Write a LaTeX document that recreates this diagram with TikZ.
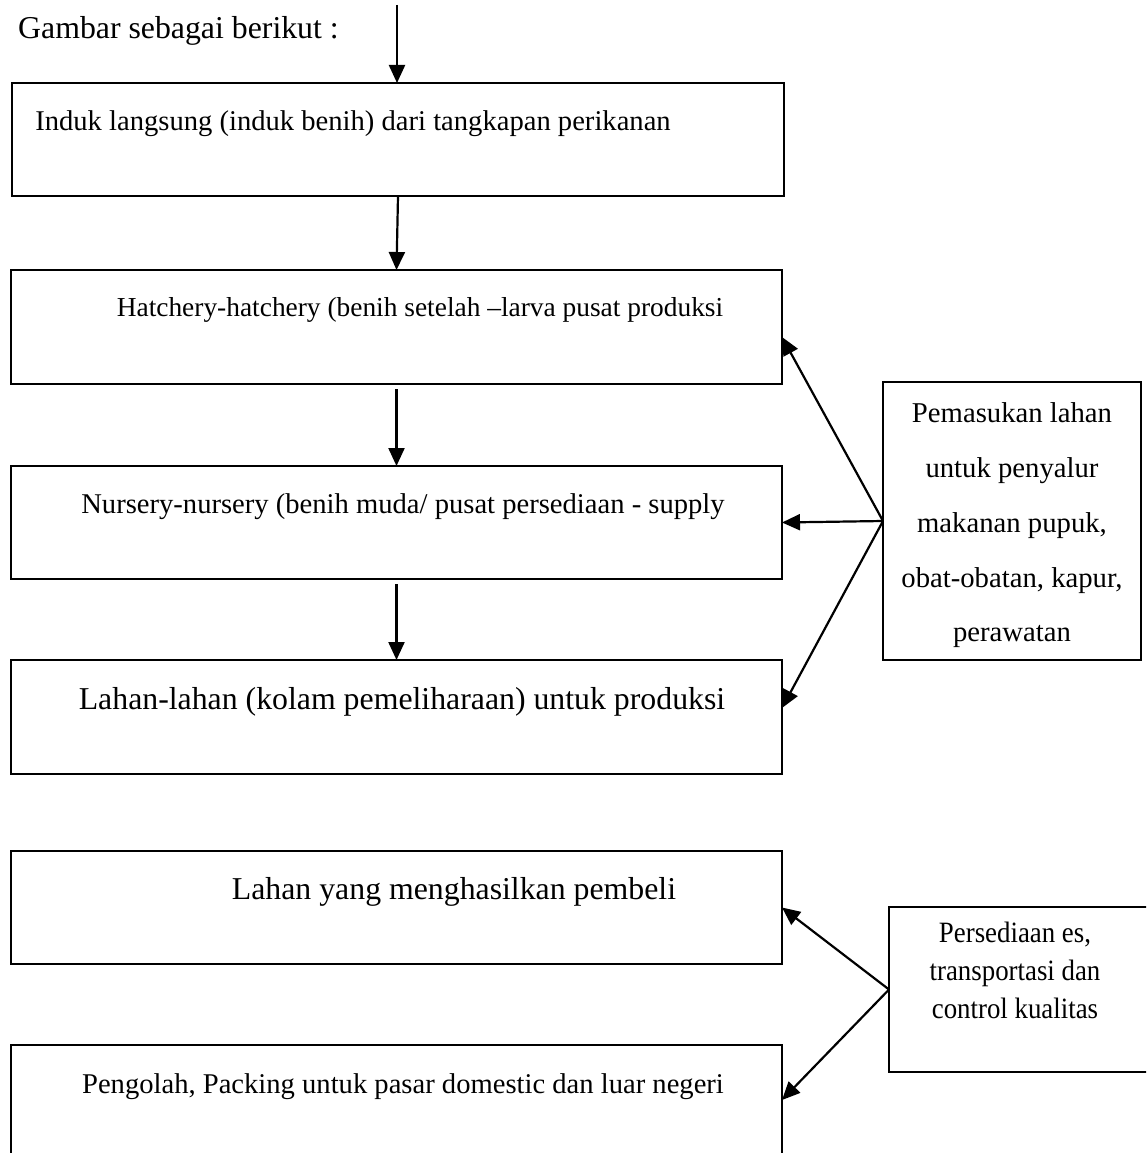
\documentclass[tikz,border=0pt]{standalone}
\usepackage{fontspec}
\setmainfont{Liberation Serif}
\usetikzlibrary{arrows.meta}
\begin{document}
\begin{tikzpicture}[x=1pt,y=-1pt,
  flowbox/.style={draw,line width=2.2pt,rectangle,anchor=north west,inner sep=0pt,outer sep=0pt},
  arr/.style={line width=2.2pt,-{Triangle[length=18pt,width=16pt]}},
  lbl/.style={anchor=base,inner sep=0pt},
  f285/.style={font=\fontsize{28.6}{34}\selectfont},
  f27/.style={font=\fontsize{27.4}{33}\selectfont},
  f32/.style={font=\fontsize{31.8}{38}\selectfont},
  fr1/.style={font=\fontsize{28.7}{34}\selectfont},
  fr2/.style={font=\fontsize{29.5}{35}\selectfont}]
\useasboundingbox (0,0) rectangle (1146,1153);
\clip (0,0) rectangle (1146,1153);
% boxes
\node[flowbox,minimum width=772pt,minimum height=113pt] (b1) at (12,83) {};
\node[flowbox,minimum width=771pt,minimum height=114pt] (b2) at (11,270) {};
\node[flowbox,minimum width=771pt,minimum height=113pt] (b3) at (11,466) {};
\node[flowbox,minimum width=771pt,minimum height=114pt] (b4) at (11,660) {};
\node[flowbox,minimum width=771pt,minimum height=113pt] (b5) at (11,851) {};
\node[flowbox,minimum width=771pt,minimum height=130pt] (b6) at (11,1045) {};
\node[flowbox,minimum width=258pt,minimum height=278pt] (r1) at (883,382) {};
\node[flowbox,minimum width=265pt,minimum height=165pt] (r2) at (889,907) {};
% texts
\node[lbl,f32,anchor=base west] (title) at (18,39) {Gambar sebagai berikut :};
\node[lbl,f285] (t1) at (353,131) {Induk langsung (induk benih) dari tangkapan perikanan};
\node[lbl,f27] (t2) at (420,316) {Hatchery-hatchery (benih setelah –larva pusat produksi};
\node[lbl,f285] (t3) at (403,513) {Nursery-nursery (benih muda/ pusat persediaan - supply};
\node[lbl,f32] (t4) at (402,709) {Lahan-lahan (kolam pemeliharaan) untuk produksi};
\node[lbl,f32] (t5) at (454,899) {Lahan yang menghasilkan pembeli};
\node[lbl,f285] (t6) at (403,1093) {Pengolah, Packing untuk pasar domestic dan luar negeri};
\node[lbl,fr1] (r1a) at (1012,422) {Pemasukan lahan};
\node[lbl,fr1] (r1b) at (1012,477) {untuk penyalur};
\node[lbl,fr1] (r1c) at (1012,532) {makanan pupuk,};
\node[lbl,fr1] (r1d) at (1012,587) {obat-obatan, kapur,};
\node[lbl,fr1] (r1e) at (1012,641) {perawatan};
\node[lbl,fr2] (r2a) at (1015,942) {\scalebox{0.91}[1]{Persediaan es,}};
\node[lbl,fr2] (r2b) at (1015,980) {\scalebox{0.91}[1]{transportasi dan}};
\node[lbl,fr2] (r2c) at (1015,1018) {\scalebox{0.91}[1]{control kualitas}};
% connectors
\coordinate (top) at (397,5);
\draw[arr] (top) -- (top |- b1.north);
\draw[arr] (b1.south) -- (b2.north);
\draw[arr] ([yshift=-5pt]b2.south) -- (b3.north);
\draw[arr] ([yshift=-5pt]b3.south) -- (b4.north);
\draw[arr] (r1.west) -- ([yshift=-10pt]b2.east);
\draw[arr] (r1.west) -- (b3.east);
\draw[arr] (r1.west) -- ([yshift=9pt]b4.east);
\draw[arr] (r2.west) -- (b5.east);
\draw[arr] (r2.west) -- ([yshift=-55pt]b6.north east);
\end{tikzpicture}
\end{document}
